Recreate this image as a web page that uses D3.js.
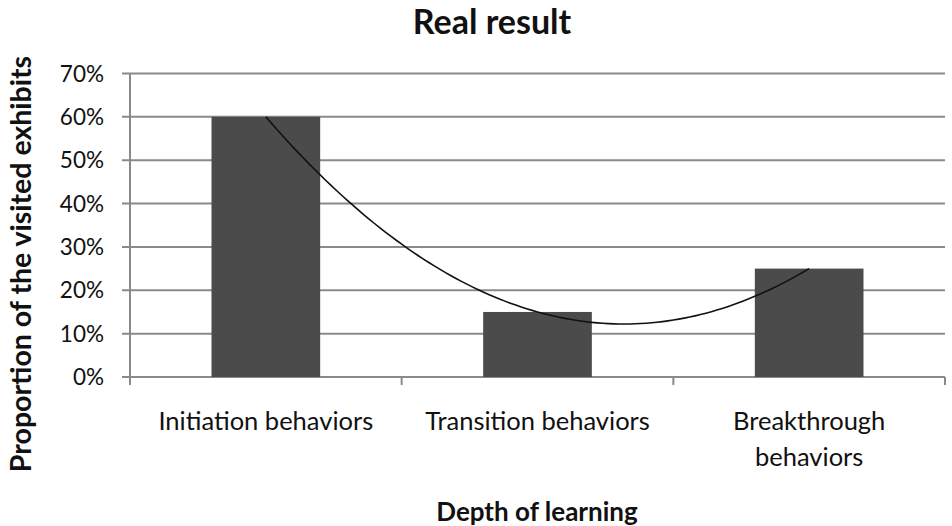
<!DOCTYPE html>
<html><head><meta charset="utf-8">
<script src="https://cdn.jsdelivr.net/npm/d3@7/dist/d3.min.js"></script>
<style>body{margin:0;background:#fff}svg{display:block}text{font-family:Lato,"Open Sans",sans-serif;fill:#111}</style>
</head><body><svg id="c" width="952" height="526"></svg>
<script>
const categories = ["Initiation behaviors", "Transition behaviors", "Breakthrough behaviors"];
const categoryLines = [["Initiation behaviors"], ["Transition behaviors"], ["Breakthrough", "behaviors"]];
const values = [0.60, 0.15, 0.25];
const yTicks = [0, 0.1, 0.2, 0.3, 0.4, 0.5, 0.6, 0.7];

const svg = d3.select("#c");
const L = 130, R = 945, T = 73.5, B = 377;
const x = d3.scaleBand().domain(categories).range([L, R]).paddingInner(0.6).paddingOuter(0.3);
const xi = d3.scaleLinear().domain([0, 2]).range([x(categories[0]) + x.bandwidth()/2, x(categories[2]) + x.bandwidth()/2]);
const y = d3.scaleLinear().domain([0, 0.7]).range([B, T]);

// gridlines
svg.append("g").selectAll("line").data(yTicks).join("line")
  .attr("x1", L - 8).attr("x2", R).attr("y1", d => y(d)).attr("y2", d => y(d))
  .attr("stroke", "#8a8a8a").attr("stroke-width", 2);

// y axis line
svg.append("line").attr("x1", L).attr("x2", L).attr("y1", T).attr("y2", B + 6).attr("stroke", "#8a8a8a").attr("stroke-width", 2);
// x ticks between categories
svg.append("g").selectAll("line").data(d3.range(4)).join("line")
  .attr("x1", i => L + i * (R - L) / 3).attr("x2", i => L + i * (R - L) / 3)
  .attr("y1", B).attr("y2", B + 8).attr("stroke", "#8a8a8a").attr("stroke-width", 2);

// y tick labels
svg.append("g").selectAll("text").data(yTicks).join("text")
  .attr("x", 104).attr("y", d => y(d)).attr("dy", "0.36em").attr("text-anchor", "end")
  .attr("font-size", 22.5).text(d3.format(".0%"));

// bars
svg.append("g").selectAll("rect").data(values).join("rect")
  .attr("x", (d, i) => x(categories[i])).attr("width", x.bandwidth())
  .attr("y", d => y(d)).attr("height", d => B - y(d)).attr("fill", "#4b4b4b");

// polynomial (order 2) trendline fitted to the bar values
const n = values.length;
const X = d3.range(n).map(i => [1, i, i*i]);
function solve(A, b){const m=A.length;A=A.map((r,i)=>[...r,b[i]]);for(let i=0;i<m;i++){let p=i;for(let k=i+1;k<m;k++)if(Math.abs(A[k][i])>Math.abs(A[p][i]))p=k;[A[i],A[p]]=[A[p],A[i]];for(let k=0;k<m;k++){if(k===i)continue;const f=A[k][i]/A[i][i];for(let j=i;j<=m;j++)A[k][j]-=f*A[i][j];}}return A.map((r,i)=>r[m]/r[i]);}
const XtX = [0,1,2].map(a => [0,1,2].map(b => d3.sum(X, r => r[a]*r[b])));
const Xty = [0,1,2].map(a => d3.sum(X, (r,i) => r[a]*values[i]));
const coef = solve(XtX, Xty);
const pts = d3.range(0, 2.0001, 0.02).map(t => [t, coef[0] + coef[1]*t + coef[2]*t*t]);
svg.append("path").datum(pts).attr("fill", "none").attr("stroke", "#111").attr("stroke-width", 1.6)
  .attr("d", d3.line().x(d => xi(d[0])).y(d => y(d[1])).curve(d3.curveBasis));

// category labels
const cl = svg.append("g").selectAll("text").data(categoryLines).join("text")
  .attr("text-anchor", "middle").attr("font-size", 25.5)
  .attr("x", (d, i) => x(categories[i]) + x.bandwidth()/2).attr("y", 430);
cl.selectAll("tspan").data(d => d).join("tspan")
  .attr("x", function(){return this.parentNode.getAttribute("x");})
  .attr("dy", (d, i) => i ? 36 : 0).text(d => d);

// titles
svg.append("text").attr("x", 492).attr("y", 34).attr("text-anchor", "middle").attr("font-size", 34).attr("font-weight", "bold").text("Real result");
svg.append("text").attr("x", 537).attr("y", 521).attr("text-anchor", "middle").attr("font-size", 26).attr("font-weight", "bold").text("Depth of learning");
svg.append("text").attr("transform", "translate(31,264) rotate(-90)").attr("text-anchor", "middle").attr("font-size", 28.5).attr("font-weight", "bold").text("Proportion of the visited exhibits");
</script></body></html>
